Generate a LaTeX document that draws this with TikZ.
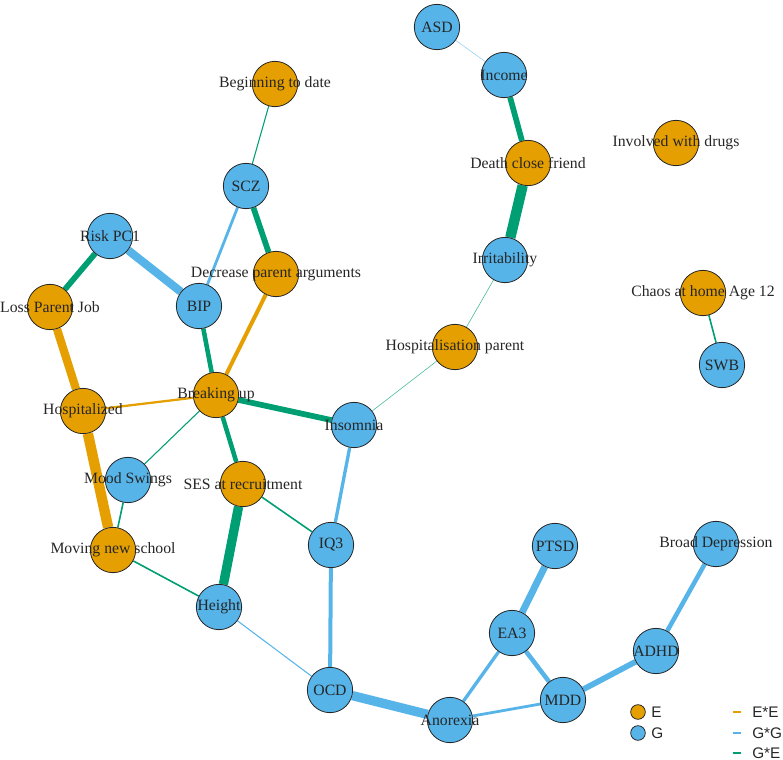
\documentclass[tikz,border=0pt]{standalone}
\usepackage{fontspec}
\setmainfont{Liberation Serif}
\newfontfamily\legfont{Liberation Sans}
\usetikzlibrary{backgrounds}
\definecolor{cE}{HTML}{E69F00}
\definecolor{cG}{HTML}{56B4E9}
\definecolor{cGE}{HTML}{009E73}
\tikzset{
  nd/.style={circle, draw=black!85, line width=0.6pt, minimum size=34pt, inner sep=0pt},
  en/.style={nd, fill=cE},
  gn/.style={nd, fill=cG},
  lab/.style={font=\fontsize{11.8}{13}\selectfont, text=black!85, inner sep=0pt},
  ee/.style={draw=cE, line width=#1},
  gg/.style={draw=cG, line width=#1},
  ge/.style={draw=cGE, line width=#1},
  legtxt/.style={font=\legfont\fontsize{11.5}{12}\selectfont, anchor=west, inner sep=0pt, text=black!85},
}
\begin{document}
\begin{tikzpicture}[x=0.75pt,y=-0.75pt]
\useasboundingbox (0,0) rectangle (783,760);
% nodes
\node[gn] (asd) at (437,27) {};
\node[gn] (inc) at (504,75) {};
\node[en] (dcf) at (528,163) {};
\node[en] (drug) at (676,143) {};
\node[gn] (irr) at (505,260) {};
\node[en] (chaos) at (703,293) {};
\node[gn] (swb) at (722,365) {};
\node[en] (hosp) at (455,347) {};
\node[en] (date) at (275,84) {};
\node[gn] (scz) at (246,186) {};
\node[gn] (risk) at (110,236) {};
\node[en] (dpa) at (276,274) {};
\node[gn] (bip) at (199,306) {};
\node[en] (lpj) at (50,307) {};
\node[en] (brk) at (216,395) {};
\node[en] (hz) at (83,411) {};
\node[gn] (ins) at (354,425) {};
\node[gn] (mood) at (128,480) {};
\node[en] (ses) at (243,484) {};
\node[en] (mns) at (113,550) {};
\node[gn] (iq) at (331,545) {};
\node[gn] (hgt) at (219,607) {};
\node[gn] (ocd) at (330,690) {};
\node[gn] (ptsd) at (555,546) {};
\node[gn] (bd) at (716,544) {};
\node[gn] (ea) at (512,633) {};
\node[gn] (adhd) at (656,651) {};
\node[gn] (ano) at (450,720) {};
\node[gn] (mdd) at (563,700) {};
% edges
\begin{scope}[on background layer]
\draw[gg=0.45pt, draw=cG!60] (asd) -- (inc);
\draw[ge=4.3pt] (inc) -- (dcf);
\draw[ge=7.8pt] (dcf) -- (irr);
\draw[ge=0.45pt, draw=cGE!70] (irr) -- (hosp);
\draw[ge=0.45pt, draw=cGE!70] (hosp) -- (ins);
\draw[ge=1.2pt] (chaos) -- (swb);
\draw[ge=0.8pt] (date) -- (scz);
\draw[gg=2.1pt] (scz) -- (bip);
\draw[ge=4.3pt] (scz) -- (dpa);
\draw[ge=4.3pt] (risk) -- (lpj);
\draw[gg=6.2pt] (risk) -- (bip);
\draw[ge=3.4pt] (bip) -- (brk);
\draw[ee=3pt] (dpa) -- (brk);
\draw[ee=6.2pt] (lpj) -- (hz);
\draw[ee=1.7pt] (hz) -- (brk);
\draw[ge=4.3pt] (brk) -- (ins);
\draw[ge=0.8pt] (brk) -- (mood);
\draw[ge=3.4pt] (brk) -- (ses);
\draw[ee=7.8pt] (hz) -- (mns);
\draw[ge=1.2pt] (mood) -- (mns);
\draw[ge=7pt] (ses) -- (hgt);
\draw[ge=1.2pt] (ses) -- (iq);
\draw[ge=1.2pt] (mns) -- (hgt);
\draw[gg=2.5pt] (ins) -- (iq);
\draw[gg=3pt] (iq) -- (ocd);
\draw[gg=0.8pt] (hgt) -- (ocd);
\draw[gg=7pt] (ocd) -- (ano);
\draw[gg=2.5pt] (ano) -- (ea);
\draw[gg=2.1pt] (ano) -- (mdd);
\draw[gg=5.2pt] (ea) -- (ptsd);
\draw[gg=3.4pt] (ea) -- (mdd);
\draw[gg=4.3pt] (mdd) -- (adhd);
\draw[gg=3.4pt] (adhd) -- (bd);
\end{scope}
% labels
\node[lab] at (asd) {ASD};
\node[lab] at (inc) {Income};
\node[lab] at (dcf) {Death close friend};
\node[lab] at (drug) {Involved with drugs};
\node[lab] at (irr) {Irritability};
\node[lab] at (chaos) {Chaos at home Age 12};
\node[lab] at (swb) {SWB};
\node[lab] at (hosp) {Hospitalisation parent};
\node[lab] at (date) {Beginning to date};
\node[lab] at (scz) {SCZ};
\node[lab] at (risk) {Risk PC1};
\node[lab] at (dpa) {Decrease parent arguments};
\node[lab] at (bip) {BIP};
\node[lab] at (lpj) {Loss Parent Job};
\node[lab] at (brk) {Breaking up};
\node[lab] at (hz) {Hospitalized};
\node[lab] at (ins) {Insomnia};
\node[lab] at (mood) {Mood Swings};
\node[lab] at (ses) {SES at recruitment};
\node[lab] at (mns) {Moving new school};
\node[lab] at (iq) {IQ3};
\node[lab] at (hgt) {Height};
\node[lab] at (ocd) {OCD};
\node[lab] at (ptsd) {PTSD};
\node[lab] at (bd) {Broad Depression};
\node[lab] at (ea) {EA3};
\node[lab] at (adhd) {ADHD};
\node[lab] at (ano) {Anorexia};
\node[lab] at (mdd) {MDD};
% legend
\node[circle, draw=black!85, fill=cE, line width=0.6pt, minimum size=11pt, inner sep=0pt] (lE) at (638,712) {};
\node[circle, draw=black!85, fill=cG, line width=0.6pt, minimum size=11pt, inner sep=0pt] (lG) at (638,733) {};
\node[legtxt] (tE) at (651,712) {E};
\node[legtxt] (tG) at (651,733) {G};
\coordinate (a1) at (733,712); \coordinate (b1) at (741,712);
\coordinate (a2) at (733,733); \coordinate (b2) at (741,733);
\coordinate (a3) at (733,753); \coordinate (b3) at (741,753);
\draw[ee=2pt] (a1) -- (b1);
\draw[gg=2pt] (a2) -- (b2);
\draw[ge=2pt] (a3) -- (b3);
\node[legtxt] at (752,712) {E*E};
\node[legtxt] at (752,733) {G*G};
\node[legtxt] at (752,753) {G*E};
\end{tikzpicture}
\end{document}
